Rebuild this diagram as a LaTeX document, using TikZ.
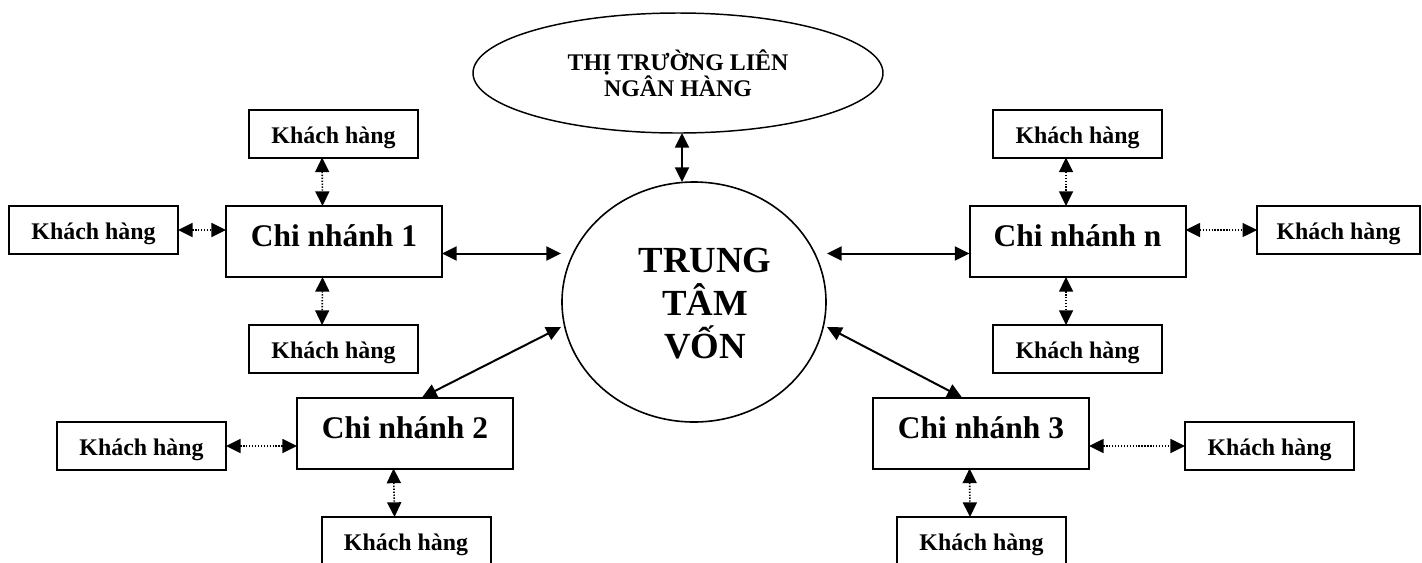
\documentclass[tikz,border=0pt]{standalone}
\usepackage{fontspec}
\setmainfont{Liberation Serif}
\usetikzlibrary{arrows.meta,shapes.geometric}

\begin{document}
\begin{tikzpicture}[x=0.75pt,y=-0.75pt,
  >={Triangle[length=11pt,width=10.5pt]},
  khbox/.style={draw,line width=1.5pt,minimum width=126.75pt,minimum height=36pt,
    inner sep=0pt,outer sep=0pt,font=\fontsize{17.9pt}{20pt}\selectfont\bfseries,
    text height=15pt,text depth=0.5pt},
  cnbox/.style={draw,line width=1.5pt,minimum width=162pt,minimum height=53.25pt,
    inner sep=0pt,outer sep=0pt,font=\fontsize{23.6pt}{26pt}\selectfont\bfseries,
    text height=18pt,text depth=9.8pt},
  market/.style={draw,ellipse,line width=1.1pt,minimum width=307.5pt,minimum height=90pt,
    inner sep=0pt,outer sep=0pt,align=center,font=\fontsize{17.9pt}{19.5pt}\selectfont\bfseries},
  hub/.style={draw,ellipse,line width=1.2pt,minimum width=198pt,minimum height=180pt,
    inner sep=0pt,outer sep=0pt},
  hubtext/.style={align=center,inner sep=0pt,font=\fontsize{27.6pt}{32.25pt}\selectfont\bfseries},
  link/.style={line width=1.5pt,<->},
  dotlink/.style={line width=1.2pt,dash pattern=on 1pt off 1.2pt,<->},
]
\useasboundingbox (0,0) rectangle (1422,562);
\fill[white] (0,0) rectangle (1422,562);
\clip (0,0) rectangle (1422,562);

% interbank market and the central fund
\node[market] (ttlnh) at (678,73) {THỊ TRƯỜNG LIÊN\\NGÂN HÀNG};
\node[hub] (ttv) at (694,302) {};
\node[hubtext] (ttvtext) at (705,304) {TRUNG\\TÂM\\VỐN};

% branches
\node[cnbox] (cn1) at (334,241.5) {Chi nhánh 1};
\node[cnbox] (cn2) at (405,433) {Chi nhánh 2};
\node[cnbox] (cn3) at (981,433) {Chi nhánh 3};
\node[cnbox] (cnn) at (1077.5,241.5) {Chi nhánh n};

% customers
\node[khbox] (k1t) at (333.5,133.5) {Khách hàng};
\node[khbox] (k1l) at (93.5,230) {Khách hàng};
\node[khbox] (k1b) at (333.5,349) {Khách hàng};
\node[khbox] (k2l) at (141.5,446) {Khách hàng};
\node[khbox] (k2b) at (406,541) {Khách hàng};
\node[khbox] (knt) at (1077.5,133.5) {Khách hàng};
\node[khbox,minimum width=122pt] (knr) at (1338.5,230) {Khách hàng};
\node[khbox] (knb) at (1077.5,349) {Khách hàng};
\node[khbox] (k3r) at (1269.5,446) {Khách hàng};
\node[khbox] (k3b) at (981.5,541) {Khách hàng};

% loose ends of the branch links next to the central fund
\coordinate (e1) at (561,253.5);
\coordinate (en) at (827,253.5);
\coordinate (e2) at (561,327);
\coordinate (e3) at (827,327);

% solid links
\draw[link] (cn1.east |- e1) -- (e1);
\draw[link] (en) -- (en -| cnn.west);
\draw[link] ([xshift=12.75pt]cn2.north) -- (e2);
\draw[link] ([xshift=-14.25pt]cn3.north) -- (e3);
\draw[link] ([xshift=3pt]ttlnh.south) -- ([xshift=-9pt]ttv.north);

% dotted customer links
\draw[dotlink] ([xshift=-8.6pt]k1t.south) -- ([xshift=-8.6pt]cn1.north);
\draw[dotlink] ([xshift=-8.6pt]cn1.south) -- ([xshift=-8.6pt]k1b.north);
\draw[dotlink] (k1l.east) -- (k1l.east -| cn1.west);
\draw[dotlink] (k2l.east) -- (k2l.east -| cn2.west);
\draw[dotlink] ([xshift=-8.6pt]cn2.south) -- ([xshift=-8.6pt]k2b.north);
\draw[dotlink] ([xshift=-8.6pt]knt.south) -- ([xshift=-8.6pt]cnn.north);
\draw[dotlink] ([xshift=-8.6pt]cnn.south) -- ([xshift=-8.6pt]knb.north);
\draw[dotlink] (cnn.east |- knr.west) -- (knr.west);
\draw[dotlink] (cn3.east |- k3r.west) -- (k3r.west);
\draw[dotlink] ([xshift=-8.6pt]cn3.south) -- ([xshift=-8.6pt]k3b.north);
\end{tikzpicture}
\end{document}
